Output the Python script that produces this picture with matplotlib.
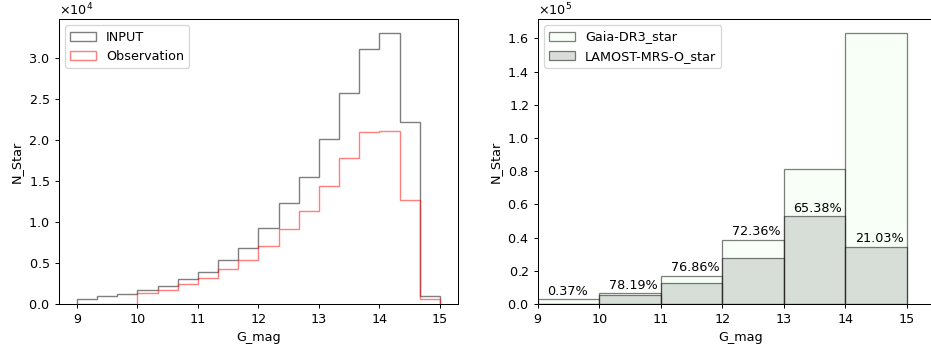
import numpy as np
import matplotlib
matplotlib.use("Agg")
import matplotlib.pyplot as plt

# ---- data ----
left_edges = np.linspace(9, 15, 19)
input_counts = [600, 930, 1180, 1660, 2190, 3000, 3940, 5320, 6860, 9300,
                12260, 15470, 20140, 25740, 31060, 33050, 22130, 1015]
obs_counts = [20, 30, 40, 1300, 1750, 2440, 3170, 4300, 5400, 7110,
              9140, 11330, 14410, 17740, 20990, 21110, 12670, 610]

right_edges = [9, 10, 11, 12, 13, 14, 15]
gaia_counts = [2810, 6830, 16670, 38350, 81300, 163500]
lamost_counts = [10, 5340, 12810, 27750, 53150, 34380]
pct_labels = ["0.37%", "78.19%", "76.86%", "72.36%", "65.38%", "21.03%"]
label_y = [7400, 11400, 21900, 43600, 57600, 39400]
label_x = [9.49, 10.56, 11.56, 12.56, 13.55, 14.56]

W, H = 931, 352
DPI = 92
fig = plt.figure(figsize=(W / DPI, H / DPI), dpi=DPI)

# ---- left panel ----
ax1 = fig.add_axes([58.7 / W, 48 / H, (458 - 58.7) / W, (304 - 19) / H])
centers = (left_edges[:-1] + left_edges[1:]) / 2
ax1.hist(centers, bins=left_edges, weights=input_counts, histtype='step',
         color='black', alpha=0.5, linewidth=1.1, label='INPUT')
ax1.hist(centers, bins=left_edges, weights=obs_counts, histtype='step',
         color='red', alpha=0.5, linewidth=1.1, label='Observation')
ax1.set_xlabel('G_mag')
ax1.set_ylabel('N_Star')
ax1.ticklabel_format(axis='y', style='sci', scilimits=(0, 0), useMathText=True)
ax1.legend(loc='upper left')

# ---- right panel ----
rc = [(right_edges[i] + right_edges[i + 1]) / 2 for i in range(len(right_edges) - 1)]
ax2 = fig.add_axes([537.7 / W, 48 / H, 406 / W, (304 - 19) / H])
ax2.hist(rc, bins=right_edges, weights=gaia_counts, histtype='bar',
         color='#f0fff0', edgecolor='black', alpha=0.5, linewidth=1.0,
         label='Gaia-DR3_star')
ax2.hist(rc, bins=right_edges, weights=lamost_counts, histtype='bar',
         color='#b8bdb8', edgecolor='black', alpha=0.5, linewidth=1.0,
         label='LAMOST-MRS-O_star')
for x, y, t in zip(label_x, label_y, pct_labels):
    ax2.text(x, y, t, ha='center', va='center', fontsize=10)
ax2.set_xlim(9, 15.6)
ax2.set_xticks(right_edges)
ax2.set_xlabel('G_mag')
ax2.set_ylabel('N_Star')
ax2.ticklabel_format(axis='y', style='sci', scilimits=(0, 0), useMathText=True)
ax2.legend(loc='upper left')

fig.savefig('out.png', dpi=DPI)
